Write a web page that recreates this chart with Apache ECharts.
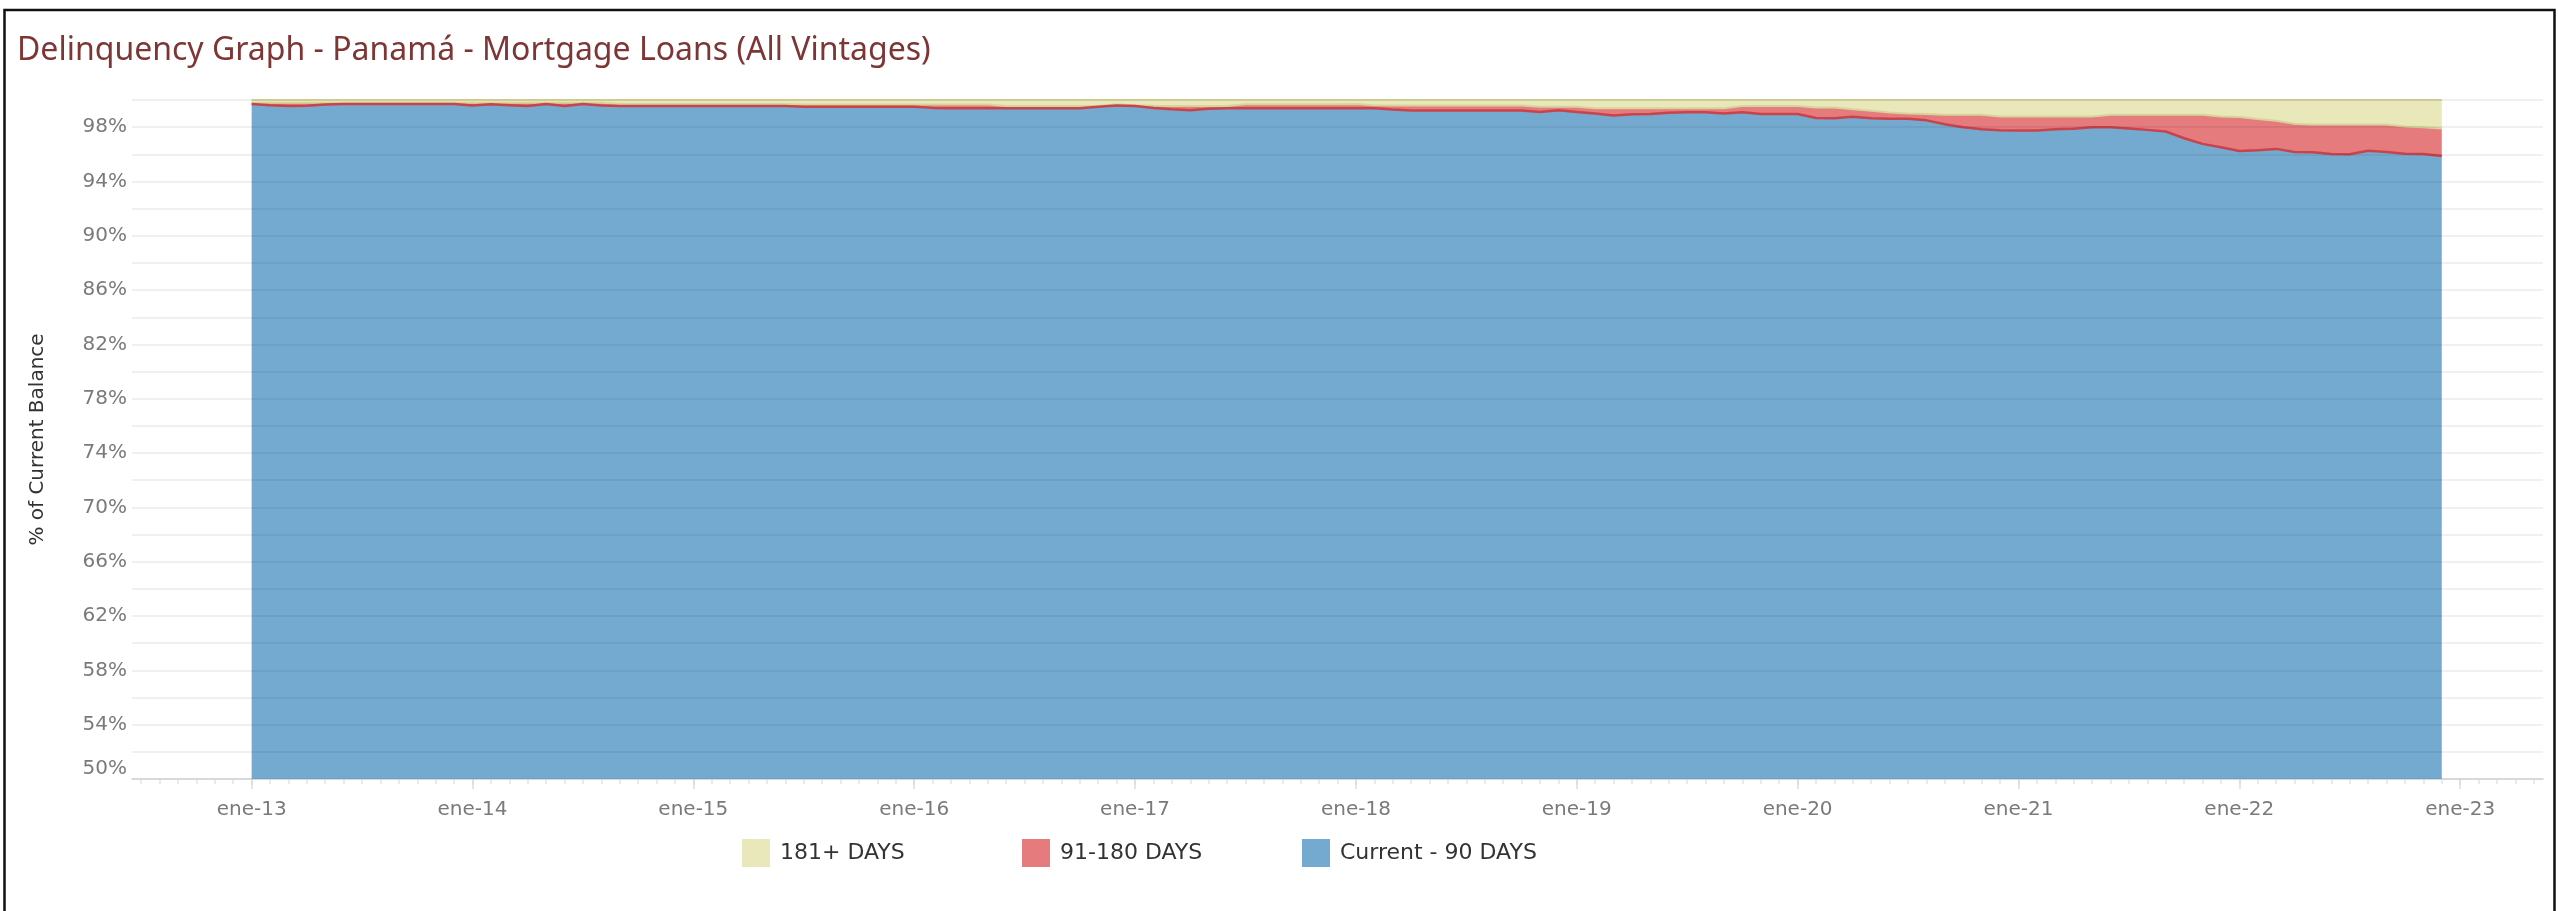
<!DOCTYPE html>
<html lang="es">
<head>
    <meta charset="UTF-8">
    <title>Delinquency Graph - Panamá</title>
    <script src="https://cdn.jsdelivr.net/npm/echarts@6/dist/echarts.min.js"></script>
    <style>
        html, body { margin: 0; padding: 0; background: #fff; }
        #chart { width: 2558px; height: 911px; }
    </style>
</head>
<body>
<div id="chart"></div>
<script type="text/javascript">
    // month names used on the axis (Spanish)
    var monthAbbr = ['ene', 'feb', 'mar', 'abr', 'may', 'jun', 'jul', 'ago', 'sep', 'oct', 'nov', 'dic'];
    // axis runs jul-12 .. may-23, data runs ene-13 .. dic-22
    var axisFirstYear = 2012;
    var axisFirstMonth = 6;
    var padBefore = 6;
    var padAfter = 5;

    var current90 = [
        99.70, 99.62, 99.56, 99.57, 99.66, 99.70, 99.70, 99.70, 99.70, 99.70, 99.70, 99.70,
        99.60, 99.68, 99.62, 99.56, 99.70, 99.56, 99.70, 99.60, 99.56, 99.56, 99.56, 99.56,
        99.56, 99.56, 99.56, 99.56, 99.56, 99.56, 99.51, 99.51, 99.51, 99.51, 99.51, 99.51,
        99.51, 99.42, 99.39, 99.39, 99.39, 99.39, 99.39, 99.39, 99.39, 99.39, 99.50, 99.60,
        99.56, 99.41, 99.31, 99.24, 99.36, 99.39, 99.39, 99.39, 99.39, 99.39, 99.39, 99.39,
        99.39, 99.39, 99.30, 99.22, 99.22, 99.22, 99.22, 99.22, 99.22, 99.22, 99.12, 99.24,
        99.12, 99.00, 98.85, 98.95, 98.97, 99.07, 99.09, 99.09, 99.00, 99.09, 98.97, 98.97,
        98.97, 98.68, 98.65, 98.77, 98.65, 98.62, 98.62, 98.50, 98.22, 98.00, 97.85, 97.78,
        97.75, 97.75, 97.85, 97.88, 98.00, 98.00, 97.90, 97.80, 97.68, 97.18, 96.77, 96.52,
        96.25, 96.30, 96.40, 96.17, 96.15, 96.02, 96.00, 96.27, 96.17, 96.05, 96.02, 95.88
    ];
    var days91to180 = [
        0.10, 0.18, 0.24, 0.23, 0.14, 0.10, 0.10, 0.10, 0.10, 0.10, 0.10, 0.10,
        0.20, 0.12, 0.18, 0.24, 0.10, 0.24, 0.10, 0.20, 0.14, 0.14, 0.14, 0.14,
        0.14, 0.14, 0.14, 0.14, 0.14, 0.14, 0.15, 0.15, 0.15, 0.15, 0.15, 0.15,
        0.15, 0.24, 0.27, 0.27, 0.27, 0.17, 0.17, 0.17, 0.17, 0.17, 0.06, 0.08,
        0.06, 0.17, 0.25, 0.32, 0.20, 0.17, 0.29, 0.29, 0.29, 0.29, 0.29, 0.29,
        0.32, 0.23, 0.30, 0.38, 0.38, 0.38, 0.38, 0.38, 0.38, 0.38, 0.38, 0.26,
        0.38, 0.39, 0.54, 0.44, 0.42, 0.32, 0.30, 0.30, 0.39, 0.47, 0.59, 0.59,
        0.59, 0.76, 0.79, 0.54, 0.55, 0.46, 0.38, 0.46, 0.69, 0.91, 1.06, 1.01,
        1.04, 1.04, 0.94, 0.91, 0.79, 0.91, 1.01, 1.11, 1.23, 1.73, 2.14, 2.27,
        2.49, 2.30, 2.07, 2.08, 2.05, 2.18, 2.20, 1.93, 2.03, 2.00, 1.98, 2.02
    ];
    var days181plus = [
        0.20, 0.20, 0.20, 0.20, 0.20, 0.20, 0.20, 0.20, 0.20, 0.20, 0.20, 0.20,
        0.20, 0.20, 0.20, 0.20, 0.20, 0.20, 0.20, 0.20, 0.30, 0.30, 0.30, 0.30,
        0.30, 0.30, 0.30, 0.30, 0.30, 0.30, 0.34, 0.34, 0.34, 0.34, 0.34, 0.34,
        0.34, 0.34, 0.34, 0.34, 0.34, 0.44, 0.44, 0.44, 0.44, 0.44, 0.44, 0.32,
        0.38, 0.42, 0.44, 0.44, 0.44, 0.44, 0.32, 0.32, 0.32, 0.32, 0.32, 0.32,
        0.29, 0.38, 0.40, 0.40, 0.40, 0.40, 0.40, 0.40, 0.40, 0.40, 0.50, 0.50,
        0.50, 0.61, 0.61, 0.61, 0.61, 0.61, 0.61, 0.61, 0.61, 0.44, 0.44, 0.44,
        0.44, 0.56, 0.56, 0.69, 0.80, 0.92, 1.00, 1.04, 1.09, 1.09, 1.09, 1.21,
        1.21, 1.21, 1.21, 1.21, 1.21, 1.09, 1.09, 1.09, 1.09, 1.09, 1.09, 1.21,
        1.26, 1.40, 1.53, 1.75, 1.80, 1.80, 1.80, 1.80, 1.80, 1.95, 2.00, 2.10
    ];

    var categories = [];
    for (var i = 0; i < padBefore + current90.length + padAfter; i++) {
        var mm = axisFirstMonth + i;
        var yy = axisFirstYear + Math.floor(mm / 12);
        categories.push(monthAbbr[mm % 12] + '-' + String(yy).slice(2));
    }

    function pad(arr) {
        var out = [];
        for (var k = 0; k < padBefore; k++) out.push(null);
        out = out.concat(arr);
        for (var k2 = 0; k2 < padAfter; k2++) out.push(null);
        return out;
    }

    function isYearStart(idx, value) {
        return value.indexOf('ene') === 0;
    }

    var font = 'DejaVu Sans';
    var chart = echarts.init(document.getElementById('chart'));

    var legendBase = {
        icon: 'rect',
        itemWidth: 28,
        itemHeight: 28,
        padding: 0,
        top: 839,
        selectedMode: false,
        itemStyle: { borderWidth: 0 },
        textStyle: { fontFamily: font, fontSize: 22, color: '#333', padding: [0, 0, 0, 5] }
    };

    var option = {
        animation: false,
        backgroundColor: '#fff',
        title: {
            text: 'Delinquency Graph - Panamá - Mortgage Loans (All Vintages)',
            left: 12,
            top: 30,
            textStyle: { fontFamily: 'Noto Sans', fontSize: 32, fontWeight: 'normal', color: '#7d3535' }
        },
        legend: [
            Object.assign({}, legendBase, { data: ['181+ DAYS'], left: 742 }),
            Object.assign({}, legendBase, { data: ['91-180 DAYS'], left: 1022 }),
            Object.assign({}, legendBase, { data: ['Current - 90 DAYS'], left: 1302 })
        ],
        grid: { left: 132, right: 15, top: 100, bottom: 132 },
        xAxis: [
            {
                type: 'category',
                position: 'bottom',
                data: categories,
                boundaryGap: true,
                axisLine: { show: true, lineStyle: { color: '#e6e6e6', width: 2 } },
                axisTick: { show: true, alignWithLabel: true, interval: 0, length: 5, lineStyle: { color: '#e3e3e3', width: 1.5 } },
                axisLabel: { show: false },
                splitLine: { show: false }
            },
            {
                type: 'category',
                position: 'bottom',
                data: categories,
                boundaryGap: true,
                axisLine: { show: false },
                axisTick: { show: true, alignWithLabel: true, interval: isYearStart, length: 10, lineStyle: { color: '#dcdcdc', width: 1.5 } },
                axisLabel: { interval: isYearStart, margin: 21, color: '#7a7a7a', fontSize: 20, fontFamily: font },
                splitLine: { show: false }
            }
        ],
        yAxis: {
            type: 'value',
            min: 50,
            max: 100,
            interval: 2,
            z: 5,
            name: '% of Current Balance',
            nameLocation: 'middle',
            nameGap: 84,
            nameTextStyle: { fontFamily: font, fontSize: 20, color: '#333' },
            axisLine: { show: false },
            axisTick: { show: false },
            axisLabel: {
                margin: 5,
                color: '#7a7a7a',
                fontSize: 20,
                fontFamily: font,
                verticalAlignMinLabel: 'bottom',
                formatter: function (v) {
                    return (100 - v) % 4 === 2 ? v + '%' : '';
                }
            },
            splitLine: { show: true, lineStyle: { color: 'rgba(0,0,0,0.06)', width: 2 } }
        },
        graphic: [{
            type: 'rect',
            silent: true,
            z: 100,
            shape: { x: 4.5, y: 10, width: 2550, height: 960 },
            style: { fill: 'none', stroke: '#111', lineWidth: 2.5 }
        }],
        series: [
            {
                name: 'Current - 90 DAYS',
                type: 'line',
                stack: 'total',
                xAxisIndex: 0,
                data: pad(current90),
                symbol: 'none',
                z: 4,
                itemStyle: { color: '#75aad0' },
                lineStyle: { color: '#c9434b', width: 2.5 },
                areaStyle: { color: '#75aad0', opacity: 1 },
                emphasis: { disabled: true }
            },
            {
                name: '91-180 DAYS',
                type: 'line',
                stack: 'total',
                xAxisIndex: 0,
                data: pad(days91to180),
                symbol: 'none',
                z: 3,
                itemStyle: { color: '#e57b7c' },
                lineStyle: { color: '#d8d39a', width: 2 },
                areaStyle: { color: '#e57b7c', opacity: 1 },
                emphasis: { disabled: true }
            },
            {
                name: '181+ DAYS',
                type: 'line',
                stack: 'total',
                xAxisIndex: 0,
                data: pad(days181plus),
                symbol: 'none',
                z: 2,
                itemStyle: { color: '#e9e8ba' },
                lineStyle: { color: '#dbd79e', width: 2 },
                areaStyle: { color: '#e9e8ba', opacity: 1 },
                emphasis: { disabled: true }
            }
        ]
    };

    chart.setOption(option);
</script>
</body>
</html>
